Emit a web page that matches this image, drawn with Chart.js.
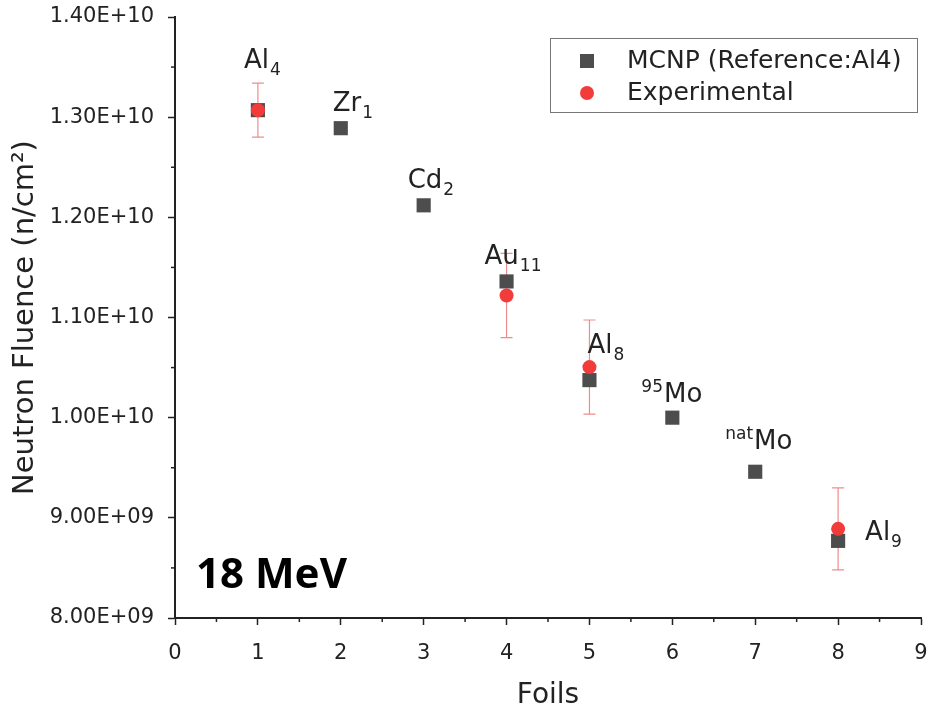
<!DOCTYPE html>
<html>
<head>
<meta charset="utf-8">
<script src="https://cdn.jsdelivr.net/npm/chart.js@4.4.1/dist/chart.umd.min.js"></script>
<style>
  html, body { margin: 0; padding: 0; background: #fff; }
</style>
</head>
<body>
<canvas id="chart" width="933" height="728"></canvas>
<script>
// foil positions and fluence values
const foils = [1, 2, 3, 4, 5, 6, 7, 8];
const mcnpFluence = [1.307e10, 1.289e10, 1.212e10, 1.136e10, 1.0375e10, 1.000e10, 9.46e9, 8.77e9];

const expFoils = [1, 4, 5, 8];
const expFluence = [1.307e10, 1.122e10, 1.0505e10, 8.89e9];
const expError = [2.7e8, 4.2e8, 4.7e8, 4.1e8];

// foil names: element, subscript (foil number), superscript (isotope)
const foilNames = ['Al', 'Zr', 'Cd', 'Au', 'Al', 'Mo', 'Mo', 'Al'];
const foilSubs = ['4', '1', '2', '11', '8', '', '', '9'];
const foilSups = ['', '', '', '', '', '95', 'nat', ''];

const yTicks = [8e9, 9e9, 1e10, 1.1e10, 1.2e10, 1.3e10, 1.4e10];

const FONT = "'DejaVu Sans', sans-serif";
const INK = '#222';
const GREY = '#4d4d4d';
const RED = '#f23c3c';

// label offsets in px from the MCNP marker
const labelShift = [[-14, -42], [-8, -17], [-16, -17], [-22, -17], [-2, -27], [-31, -16], [-30, -23], [27, -1]];

function sciLabel(v) {
  const [m, e] = Number(v).toExponential(2).split('e');
  return m + 'E' + e[0] + e.slice(1).padStart(2, '0');
}

const minorTicks = {
  id: 'minorTicks',
  afterDraw(chart) {
    const { ctx, scales: { x, y } } = chart;
    ctx.save();
    ctx.strokeStyle = INK;
    ctx.lineWidth = 1.5;
    for (let v = 0.5; v < 9; v += 1) {
      const px = x.getPixelForValue(v);
      ctx.beginPath();
      ctx.moveTo(px, y.bottom);
      ctx.lineTo(px, y.bottom + 4);
      ctx.stroke();
    }
    for (let v = 8.5e9; v < 1.4e10; v += 1e9) {
      const py = y.getPixelForValue(v);
      ctx.beginPath();
      ctx.moveTo(x.left, py);
      ctx.lineTo(x.left - 4, py);
      ctx.stroke();
    }
    ctx.restore();
  }
};

const errorBars = {
  id: 'errorBars',
  beforeDatasetsDraw(chart) {
    const { ctx, scales: { x, y } } = chart;
    ctx.save();
    ctx.strokeStyle = '#f08c8c';
    ctx.lineWidth = 1.2;
    expFoils.forEach((f, i) => {
      const px = x.getPixelForValue(f);
      const hi = y.getPixelForValue(expFluence[i] + expError[i]);
      const lo = y.getPixelForValue(expFluence[i] - expError[i]);
      ctx.beginPath();
      ctx.moveTo(px, hi); ctx.lineTo(px, lo);
      ctx.moveTo(px - 6, hi); ctx.lineTo(px + 6, hi);
      ctx.moveTo(px - 6, lo); ctx.lineTo(px + 6, lo);
      ctx.stroke();
    });
    ctx.restore();
  }
};

const foilLabels = {
  id: 'foilLabels',
  afterDatasetsDraw(chart) {
    const { ctx, scales: { x, y } } = chart;
    ctx.save();
    ctx.fillStyle = INK;
    ctx.textBaseline = 'alphabetic';
    ctx.textAlign = 'left';
    foils.forEach((f, i) => {
      let tx = x.getPixelForValue(f) + labelShift[i][0];
      const ty = y.getPixelForValue(mcnpFluence[i]) + labelShift[i][1];
      if (foilSups[i]) {
        ctx.font = `17px ${FONT}`;
        ctx.fillText(foilSups[i], tx, ty - 10);
        tx += ctx.measureText(foilSups[i]).width + 1;
      }
      ctx.font = `26px ${FONT}`;
      ctx.fillText(foilNames[i], tx, ty);
      tx += ctx.measureText(foilNames[i]).width + 1;
      if (foilSubs[i]) {
        ctx.font = `17px ${FONT}`;
        ctx.fillText(foilSubs[i], tx, ty + 7);
      }
    });

    // energy tag
    ctx.font = `bold 42px 'Noto Sans', sans-serif`;
    ctx.fillStyle = '#000';
    ctx.fillText('18 MeV', 196, 588);
    ctx.restore();
  }
};

const boxLegend = {
  id: 'boxLegend',
  afterDraw(chart) {
    const { ctx } = chart;
    ctx.save();
    ctx.strokeStyle = '#777';
    ctx.lineWidth = 1;
    ctx.strokeRect(550.5, 38.5, 367, 74);
    ctx.fillStyle = GREY;
    ctx.fillRect(580, 54, 14, 14);
    ctx.fillStyle = RED;
    ctx.beginPath();
    ctx.arc(587, 93, 7, 0, Math.PI * 2);
    ctx.fill();
    ctx.fillStyle = INK;
    ctx.font = `25px ${FONT}`;
    ctx.textBaseline = 'middle';
    ctx.fillText('MCNP (Reference:Al4)', 627, 61);
    ctx.fillText('Experimental', 627, 93);
    ctx.restore();
  }
};

new Chart(document.getElementById('chart'), {
  type: 'scatter',
  data: {
    datasets: [
      {
        label: 'Experimental',
        data: expFoils.map((f, i) => ({ x: f, y: expFluence[i] })),
        pointStyle: 'circle',
        pointRadius: 7,
        pointHoverRadius: 7,
        backgroundColor: RED,
        borderWidth: 0
      },
      {
        label: 'MCNP (Reference:Al4)',
        data: foils.map((f, i) => ({ x: f, y: mcnpFluence[i] })),
        pointStyle: 'rect',
        pointRadius: 10,
        pointHoverRadius: 10,
        backgroundColor: GREY,
        borderWidth: 0
      }
    ]
  },
  options: {
    responsive: false,
    animation: false,
    devicePixelRatio: 1,
    layout: { padding: { top: 17, right: 12, left: 0, bottom: 0 } },
    plugins: {
      legend: { display: false },
      tooltip: { enabled: false }
    },
    scales: {
      x: {
        type: 'linear',
        min: 0,
        max: 9,
        afterFit(s) { s.height = 110; s.paddingLeft = 0; s.paddingRight = 0; },
        ticks: {
          stepSize: 1,
          color: INK,
          padding: 16,
          font: { family: FONT, size: 21 }
        },
        grid: { drawOnChartArea: false, drawTicks: true, tickLength: 7, tickColor: INK, tickWidth: 1.5 },
        border: { color: INK, width: 2 },
        title: {
          display: true,
          text: 'Foils',
          color: INK,
          font: { family: FONT, size: 28, lineHeight: 1.2 },
          padding: { top: 0, bottom: 15 }
        }
      },
      y: {
        type: 'linear',
        min: 8e9,
        max: 1.4e10,
        afterFit(s) { s.width = 175; s.paddingTop = 0; s.paddingBottom = 0; },
        afterBuildTicks(s) { s.ticks = yTicks.map(v => ({ value: v })); },
        ticks: {
          color: INK,
          padding: 14,
          font: { family: FONT, size: 21 },
          callback: v => sciLabel(v)
        },
        grid: { drawOnChartArea: false, drawTicks: true, tickLength: 7, tickColor: INK, tickWidth: 1.5 },
        border: { color: INK, width: 2 },
        title: {
          display: true,
          text: 'Neutron Fluence (n/cm\u00B2)',
          color: INK,
          font: { family: FONT, size: 29, lineHeight: 1.2 },
          padding: { top: 8, bottom: 0 }
        }
      }
    }
  },
  plugins: [errorBars, foilLabels, minorTicks, boxLegend]
});
</script>
</body>
</html>
